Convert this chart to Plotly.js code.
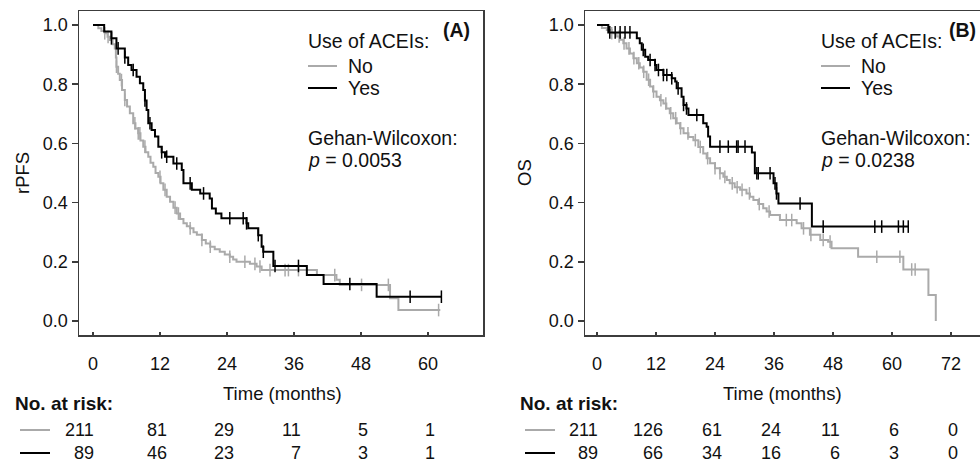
<!DOCTYPE html>
<html><head><meta charset="utf-8">
<script src="https://cdn.plot.ly/plotly-3.0.1.min.js"></script>
<style>html,body{margin:0;padding:0;overflow:hidden;background:#fff}#chart{width:1000px;height:462px}</style>
</head><body><div id="chart"></div>
<script>
// ---------- Data ----------
// Panel A: rPFS, Kaplan-Meier steps (time in months, survival after step)
const rpfsNoTime = [0,0.95,1.5,2.1,2.6,3.0,3.5,3.9,4.1,4.2,4.5,4.8,5.2,5.7,6.1,6.6,7.2,7.6,8.1,8.5,9.0,9.4,9.9,10.3,10.8,11.2,11.7,12.1,12.6,13.2,13.8,14.4,15.0,15.6,16.2,16.8,17.4,18.0,18.6,19.5,20.2,21.0,21.8,22.7,23.6,24.5,25.1,25.7,28.1,29.3,30.2,40.1,43.6,44.2,53.2,54.7,62.2];
const rpfsNoSurv = [1,0.989,0.98,0.972,0.96,0.949,0.935,0.921,0.89,0.859,0.835,0.814,0.78,0.747,0.725,0.702,0.668,0.65,0.634,0.61,0.589,0.57,0.555,0.535,0.521,0.50,0.487,0.465,0.443,0.42,0.403,0.383,0.363,0.345,0.330,0.32,0.313,0.30,0.291,0.274,0.262,0.251,0.242,0.234,0.225,0.217,0.208,0.200,0.193,0.184,0.172,0.155,0.139,0.122,0.077,0.037,0.037];
const rpfsNoCens = [2.1,2.7,4.2,5.1,5.7,7.5,8.1,8.4,9.3,12.0,12.9,14.7,15.3,17.4,19.5,21.0,24.5,27.2,29.0,29.9,31.7,34.4,35.0,36.8,43.3,48.1,52.9,61.9];

const rpfsYesTime = [0,2.0,3.3,4.2,5.7,6.3,6.9,7.8,8.4,9.0,9.3,9.6,9.9,10.5,11.1,11.7,12.3,12.9,14.4,15.9,16.2,17.7,19.2,20.9,21.3,22.0,23.0,27.5,27.8,29.6,30.2,30.5,32.3,38.3,41.3,50.8,62.4];
const rpfsYesSurv = [1,0.978,0.955,0.921,0.890,0.865,0.848,0.825,0.803,0.78,0.745,0.713,0.668,0.645,0.623,0.589,0.570,0.555,0.532,0.510,0.465,0.443,0.431,0.414,0.380,0.363,0.347,0.330,0.313,0.29,0.251,0.234,0.186,0.155,0.125,0.082,0.082];
const rpfsYesCens = [3.3,4.5,5.7,7.2,9.3,10.2,12.3,13.2,15.0,17.4,19.8,24.5,26.9,27.5,29.6,30.5,32.6,36.8,46.0,56.8,62.4];

// Panel B: OS
const osNoTime = [0,1.0,2.0,3.0,4.0,4.7,5.35,6.0,6.7,7.4,8.1,8.7,9.4,10.1,10.8,11.4,12.1,12.8,13.5,14.1,14.8,15.5,16.2,16.9,17.6,18.6,19.6,20.6,21.6,22.3,23.0,24.0,25.0,25.7,26.4,27.0,28.0,29.1,30.4,31.1,31.8,32.8,33.8,34.5,35.2,37.2,40.6,41.6,43.3,45.4,47.0,47.7,53.1,62.3,67.4,68.9];
const osNoSurv = [1,0.99,0.983,0.972,0.961,0.95,0.938,0.921,0.904,0.888,0.871,0.856,0.842,0.815,0.792,0.775,0.758,0.746,0.735,0.718,0.702,0.685,0.668,0.651,0.634,0.622,0.611,0.588,0.566,0.55,0.533,0.516,0.499,0.487,0.476,0.465,0.452,0.443,0.431,0.42,0.409,0.395,0.381,0.37,0.358,0.341,0.330,0.313,0.291,0.274,0.268,0.246,0.217,0.174,0.088,0.0];
const osNoCens = [3.0,4.5,5.5,6.5,7.5,8.5,9.5,10.5,11.5,13.0,14.0,15.0,16.0,17.0,18.5,20.0,21.0,22.5,24.0,25.0,26.0,27.5,28.5,29.5,31.0,33.0,35.0,38.5,39.6,42.0,43.5,46.0,47.4,56.9,61.6,64.0,64.7];

const osYesTime = [0,2.3,8.1,8.7,9.1,9.8,10.4,11.8,12.1,13.5,15.2,15.9,16.2,17.2,17.6,18.2,18.6,21.6,22.3,22.6,23.0,31.5,32.1,35.9,36.5,36.9,43.7,63.3];
const osYesSurv = [1,0.975,0.955,0.938,0.916,0.893,0.882,0.865,0.848,0.831,0.820,0.809,0.786,0.758,0.730,0.718,0.696,0.668,0.656,0.623,0.589,0.569,0.499,0.465,0.431,0.397,0.319,0.319];
const osYesCens = [2.6,3.7,4.7,5.7,6.7,9.4,10.8,11.8,12.5,13.5,14.2,15.2,16.5,17.6,18.2,20.3,25.0,26.7,28.4,28.7,30.1,32.5,32.8,35.2,36.2,36.5,41.3,46.0,56.5,57.9,61.3,62.3,63.3];

// Risk table
const ticksA = [0,12,24,36,48,60];
const riskNoA = [211,81,29,11,5,1];
const riskYesA = [89,46,23,7,3,1];
const ticksB = [0,12,24,36,48,60,72];
const riskNoB = [211,126,61,24,11,6,0];
const riskYesB = [89,66,34,16,6,3,0];
const yTicks = [0,0.2,0.4,0.6,0.8,1.0];
const yTickText = ['0.0','0.2','0.4','0.6','0.8','1.0'];

// ---------- Styling ----------
const GREY = '#aaaaaa', BLACK = '#000000', TXT = '#111111', AX = '#3c3c3c';
const FONT = 'Liberation Sans, Arial, sans-serif';
const FS = 18, FS_LEG = 19.5, FS_TITLE = 18.5;
const W = 1000, H = 462;
const px = v => v / W;
const py = v => (H - v) / H;

function stepAt(ts, ss, t) {
  let s = ss[0];
  for (let i = 0; i < ts.length; i++) { if (ts[i] <= t) s = ss[i]; else break; }
  return s;
}
function curve(ts, ss, color, xa, ya) {
  return {x: ts, y: ss, xaxis: xa, yaxis: ya, type: 'scatter', mode: 'lines',
    line: {shape: 'hv', color: color, width: 2}, hoverinfo: 'skip', showlegend: false};
}
function cens(ct, ts, ss, color, xa, ya) {
  return {x: ct, y: ct.map(t => stepAt(ts, ss, t)), xaxis: xa, yaxis: ya, type: 'scatter', mode: 'markers',
    marker: {symbol: 'line-ns', size: 9, line: {color: color, width: 1.5}}, hoverinfo: 'skip', showlegend: false};
}

const data = [
  curve(rpfsNoTime, rpfsNoSurv, GREY, 'x', 'y'),
  cens(rpfsNoCens, rpfsNoTime, rpfsNoSurv, GREY, 'x', 'y'),
  curve(rpfsYesTime, rpfsYesSurv, BLACK, 'x', 'y'),
  cens(rpfsYesCens, rpfsYesTime, rpfsYesSurv, BLACK, 'x', 'y'),
  curve(osNoTime, osNoSurv, GREY, 'x2', 'y2'),
  cens(osNoCens, osNoTime, osNoSurv, GREY, 'x2', 'y2'),
  curve(osYesTime, osYesSurv, BLACK, 'x2', 'y2'),
  cens(osYesCens, osYesTime, osYesSurv, BLACK, 'x2', 'y2')
];

const yDom = [127 / H, 451 / H];
function xax(dom, rng, tv) {
  return {domain: dom, range: rng, tickvals: tv, ticktext: tv.map(String), ticks: 'inside', ticklen: 3,
    tickwidth: 1.5, tickcolor: AX, showline: true, mirror: true, linecolor: AX, linewidth: 1.5,
    showgrid: false, zeroline: false, tickfont: {family: FONT, size: FS, color: TXT}, ticklabelstandoff: 12, fixedrange: true};
}
function yax(anchor) {
  return {domain: yDom, anchor: anchor, range: [-0.0473, 1.0473], tickvals: yTicks, ticktext: yTickText,
    ticks: 'outside', ticklen: 6, tickwidth: 1.5, tickcolor: AX, showline: true, mirror: true, linecolor: AX,
    linewidth: 1.5, showgrid: false, zeroline: false, tickfont: {family: FONT, size: FS, color: TXT}, fixedrange: true};
}

const ann = [];
const shapes = [];
function txt(x, y, s, opts, size) {
  ann.push(Object.assign({xref: 'paper', yref: 'paper', x: px(x), y: py(y), text: s, showarrow: false,
    xanchor: 'left', yanchor: 'middle', font: {family: FONT, size: size || FS_LEG, color: TXT}}, opts || {}));
}
function seg(x0, x1, y, color) {
  shapes.push({type: 'line', xref: 'paper', yref: 'paper', x0: px(x0), x1: px(x1), y0: py(y), y1: py(y),
    line: {color: color, width: 2}});
}

function panel(o) {
  txt(o.labX, 30, '<b>' + o.label + '</b>', {xanchor: 'right'});
  txt(o.legX, 41, 'Use of ACEIs:');
  seg(o.legX + 2, o.legX + 31, 66, GREY);
  seg(o.legX + 2, o.legX + 31, 88, BLACK);
  txt(o.legX + 40, 66, 'No');
  txt(o.legX + 40, 88, 'Yes');
  txt(o.legX, 138, 'Gehan-Wilcoxon:');
  txt(o.legX, 160, '<i>p</i> = ' + o.p);
  txt(o.yTitleX, 173, o.yTitle, {xanchor: 'center', textangle: -90}, FS_TITLE);
  txt(o.xTitleX, 393, 'Time (months)', {xanchor: 'center'}, FS_TITLE);
  txt(o.riskX, 403, '<b>No. at risk:</b>', {}, 19);
  seg(o.riskX + 7, o.riskX + 37, 430, GREY);
  seg(o.riskX + 7, o.riskX + 37, 453, BLACK);
  o.ticks.forEach((t, i) => {
    const sh = i === 0 ? 3 : 9;
    ann.push({xref: o.xa, yref: 'paper', x: t, y: py(430), text: String(o.no[i]), showarrow: false,
      xanchor: 'right', yanchor: 'middle', xshift: sh, font: {family: FONT, size: FS, color: TXT}});
    ann.push({xref: o.xa, yref: 'paper', x: t, y: py(453), text: String(o.yes[i]), showarrow: false,
      xanchor: 'right', yanchor: 'middle', xshift: sh, font: {family: FONT, size: FS, color: TXT}});
  });
}
panel({label: '(A)', labX: 472, legX: 306, p: '0.0053', yTitle: 'rPFS', yTitleX: 22, xTitleX: 282,
  riskX: 13, ticks: ticksA, no: riskNoA, yes: riskYesA, xa: 'x'});
panel({label: '(B)', labX: 978, legX: 819, p: '0.0238', yTitle: 'OS', yTitleX: 524, xTitleX: 782,
  riskX: 518, ticks: ticksB, no: riskNoB, yes: riskYesB, xa: 'x2'});

const layout = {
  width: W, height: H, margin: {l: 0, r: 0, t: 0, b: 0}, paper_bgcolor: '#fff', plot_bgcolor: '#fff',
  showlegend: false,
  xaxis: xax([79 / W, 483 / W], [-2.508, 69.85], ticksA),
  yaxis: yax('x'),
  xaxis2: xax([585 / W, 992 / W], [-2.44, 80.33], ticksB),
  yaxis2: yax('x2'),
  annotations: ann, shapes: shapes
};
layout.xaxis.anchor = 'y';
layout.xaxis2.anchor = 'y2';
Plotly.newPlot('chart', data, layout, {staticPlot: true, displayModeBar: false});
</script></body></html>
